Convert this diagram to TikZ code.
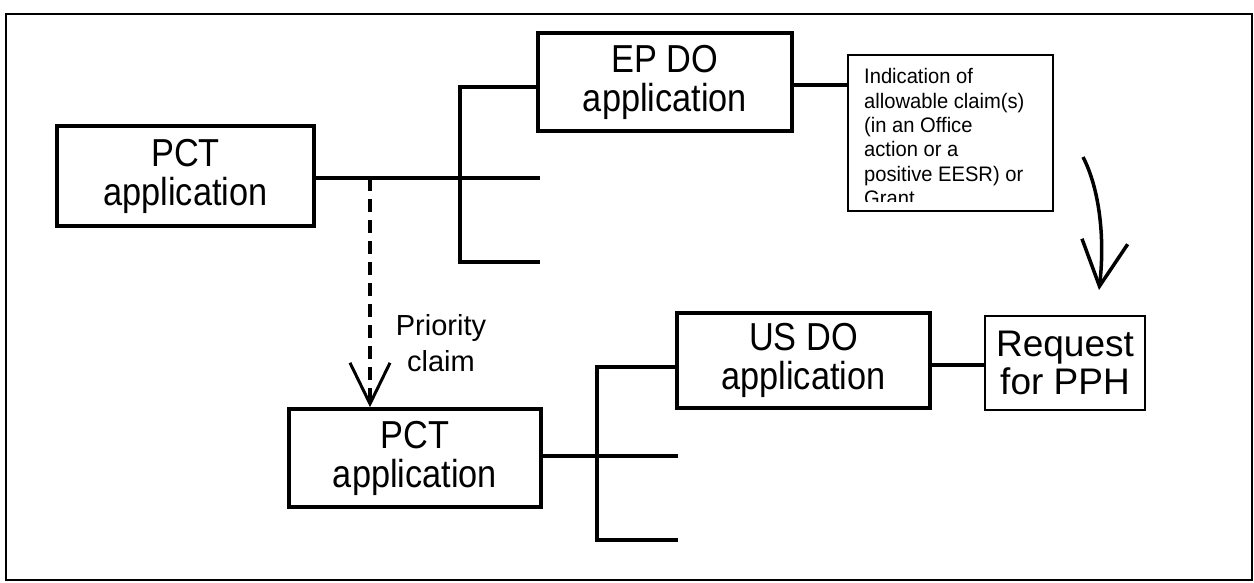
\documentclass[tikz,border=0pt]{standalone}
\usepackage{fontspec}
\setmainfont{Liberation Sans}
\newfontfamily\condfont[FakeStretch=0.88]{Liberation Sans}
\newfontfamily\smallfont[FakeStretch=0.96]{Liberation Sans}
\usetikzlibrary{arrows.meta}
\begin{document}
\begin{tikzpicture}[x=1pt,y=-1pt,
  bigbox/.style={draw,line width=3.5pt,inner sep=0pt,align=center,
    font=\condfont\fontsize{39}{39}\selectfont},
  thinbox/.style={draw,line width=1.3pt,inner sep=0pt,align=center},
  conn/.style={line width=3.5pt},
  lbl/.style={inner sep=0pt,align=center}]
\useasboundingbox (0,0) rectangle (1254,583);
\draw[line width=2pt] (6,14) rectangle (1252,580);

% nodes
\node[bigbox,minimum width=257pt,minimum height=100pt] (pct1) at (185.5,176) {PCT\\application};
\node[bigbox,minimum width=254pt,minimum height=98pt] (ep) at (665,82) {EP DO\\application};
\node[thinbox,minimum width=205pt,minimum height=156pt] (ind) at (950.5,133) {};
\begin{scope}
  \clip (848,55) rectangle (1053,202);
  \node[inner sep=0pt,anchor=north west,align=left,
    font=\smallfont\fontsize{21}{24.3}\selectfont] (indtext) at (864,68.5)
    {Indication of\\allowable claim(s)\\(in an Office\\action or a\\positive EESR) or\\Grant};
\end{scope}
\node[bigbox,minimum width=252pt,minimum height=98pt] (pct2) at (415,458) {PCT\\application};
\node[bigbox,minimum width=253pt,minimum height=95pt] (us) at (803.5,360.5) {US DO\\application};
\node[thinbox,minimum width=160pt,minimum height=94pt,
  font=\fontsize{37}{38}\selectfont] (req) at (1065,363) {Request\\for PPH};
\node[lbl,font=\fontsize{29}{36}\selectfont] (prio) at (441,343) {Priority\\claim};

% upper tree
\coordinate (j1) at (460,178);
\coordinate (t1) at (460,87);
\coordinate (b1) at (460,262);
\coordinate (m1end) at (540,178);
\coordinate (b1end) at (540,262);
\draw[conn] (pct1.east |- j1) -- (m1end);
\draw[conn] (t1 -| ep.west) -- (t1) -- (b1) -- (b1end);
\coordinate (c85) at (800,85);
\draw[conn] (c85 -| ep.east) -- (c85 -| ind.west);

% lower tree
\coordinate (j2) at (597,456);
\coordinate (t2) at (597,367);
\coordinate (b2) at (597,540);
\coordinate (m2end) at (678,456);
\coordinate (b2end) at (678,540);
\draw[conn] (pct2.east |- j2) -- (m2end);
\draw[conn] (t2 -| us.west) -- (t2) -- (b2) -- (b2end);
\coordinate (c365) at (950,365);
\draw[conn] (c365 -| us.east) -- (c365 -| req.west);

% priority claim dashed arrow
\coordinate (d1) at (370,178);
\draw[line width=3.5pt,dash pattern=on 13pt off 8pt,
  -{Straight Barb[length=41pt,width=40pt,line width=3pt]}]
  (d1) -- (d1 |- pct2.north);

% curved arrow
\coordinate (cs) at (1083,157);
\coordinate (ce) at (1099,290);
\draw[line width=3.5pt,-{Straight Barb[length=45pt,width=46pt,line width=3.5pt]}]
  (cs) .. controls (1100,190) and (1105,240) .. (ce);
\end{tikzpicture}
\end{document}
